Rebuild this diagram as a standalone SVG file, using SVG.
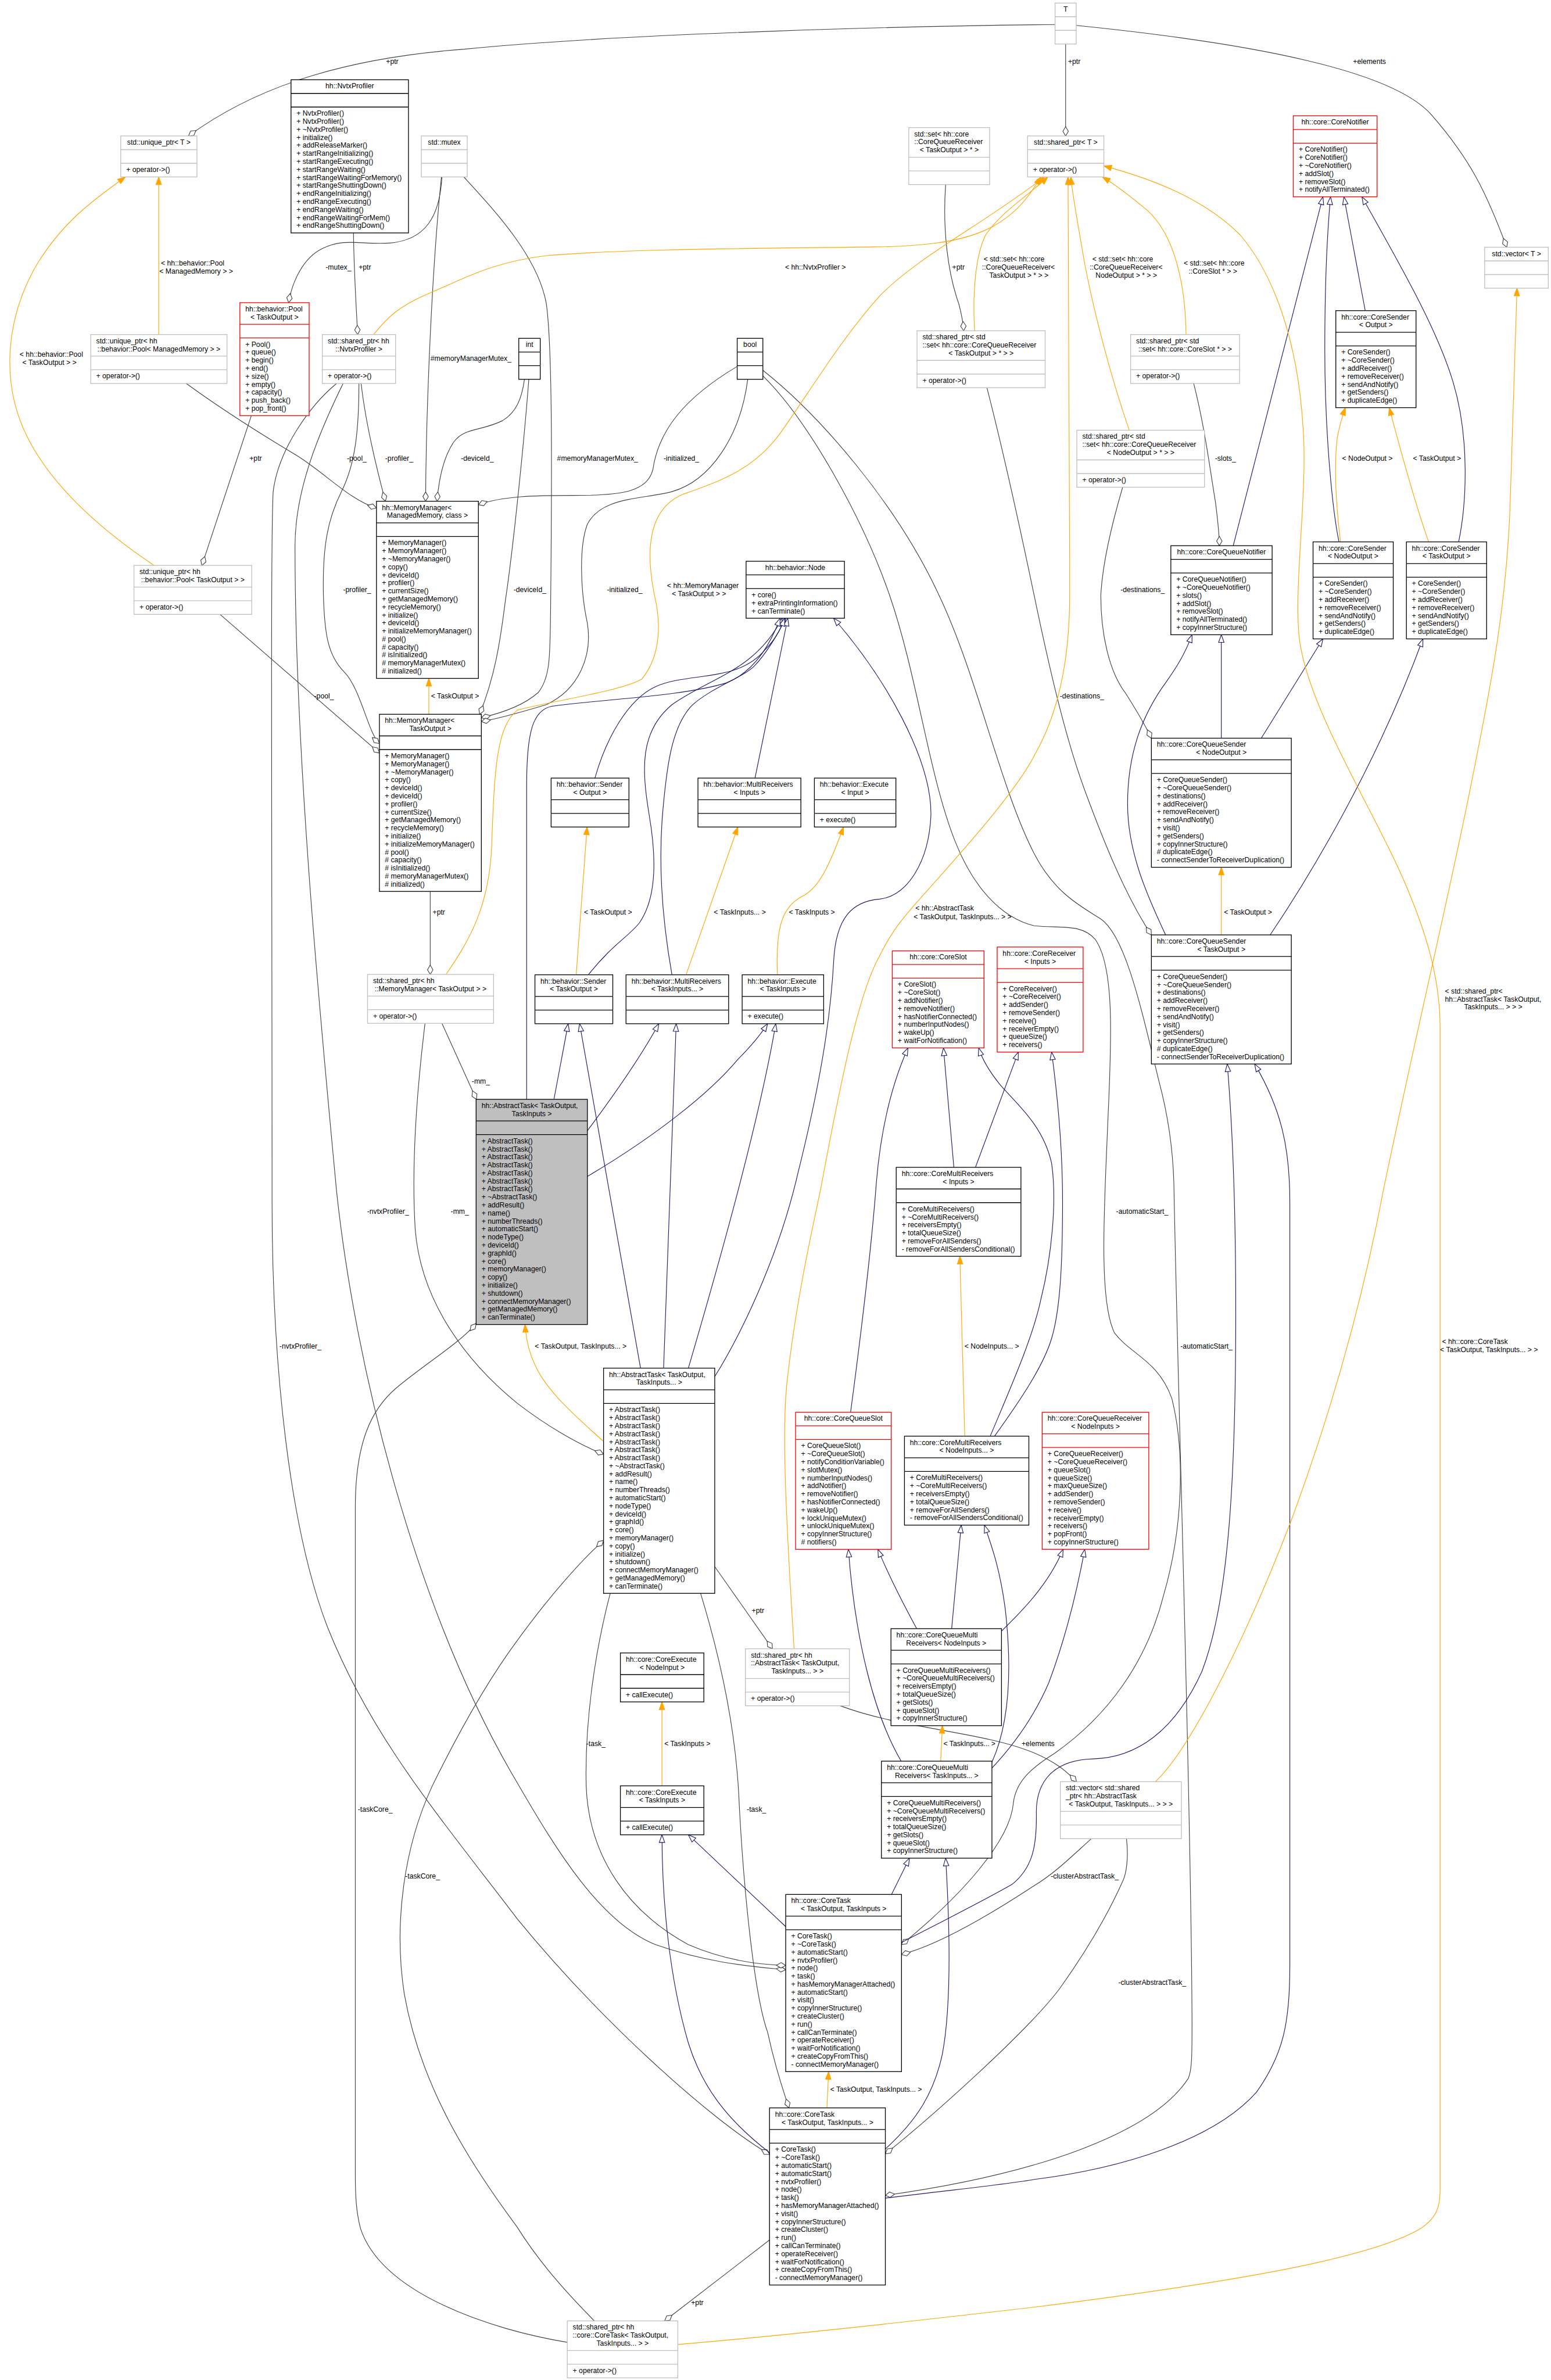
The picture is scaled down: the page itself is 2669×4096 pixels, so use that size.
<svg xmlns="http://www.w3.org/2000/svg" width="2669" height="4096" viewBox="0 0 2669 4096">
<defs>
<style>
text{font-family:"Liberation Sans",Arial,Helvetica,sans-serif;font-size:13px;fill:#000}
.b{fill:#fff;stroke:#000;stroke-width:1.4}
.g{fill:#fff;stroke:#bfbfbf;stroke-width:1.4}
.r{fill:#fff;stroke:#ff0000;stroke-width:1.4}
.f{fill:#bfbfbf;stroke:#000;stroke-width:1.4}
.sb{fill:none;stroke:#000;stroke-width:1.4}
.sg{fill:none;stroke:#bfbfbf;stroke-width:1.4}
.sr{fill:none;stroke:#ff0000;stroke-width:1.4}
.c{text-anchor:middle}
.e{fill:none;stroke-width:1.2}
.eg{stroke:#404040;marker-end:url(#dia)}
.eb{stroke:#191970;marker-end:url(#tri)}
.eo{stroke:#ffa500;marker-end:url(#arr)}
</style>
<marker id="dia" markerUnits="userSpaceOnUse" viewBox="-19 -7 20 14" refX="0" refY="0" markerWidth="20" markerHeight="14" orient="auto"><path d="M-17,0 L-8.5,-5 L0,0 L-8.5,5 Z" fill="#fff" stroke="#404040" stroke-width="1.2"/></marker>
<marker id="tri" markerUnits="userSpaceOnUse" viewBox="-16 -7 17 14" refX="0" refY="0" markerWidth="17" markerHeight="14" orient="auto"><path d="M-14,-5 L0,0 L-14,5 Z" fill="#fff" stroke="#191970" stroke-width="1.2"/></marker>
<marker id="arr" markerUnits="userSpaceOnUse" viewBox="-16 -7 17 14" refX="0" refY="0" markerWidth="17" markerHeight="14" orient="auto"><path d="M-14,-5 L0,0 L-14,5 Z" fill="#ffa500" stroke="#ffa500" stroke-width="1.2"/></marker>
</defs>
<rect x="0" y="0" width="2669" height="4096" fill="#fff"/>
<g transform="scale(0.9401)">
<g id="connectors" class="e">
<!-- usage (gray) -->
<path class="e eg" d="M1931.3,45 C1700,47 1150,60 850,90 C650,105 480,150 345,248.9"/>
<path class="e eg" d="M1950.6,80.6 L1950.6,248.9"/>
<path class="e eg" d="M1969.9,46.6 C2300,80 2550,130 2620,210 C2690,290 2720,350 2758,452.6"/>
<path class="e eg" d="M809,323.9 C805,395 780,440 712,445 C660,448 630,435 590,455 C555,472 535,515 528.4,554.1"/>
<path class="e eg" d="M647,426.4 C648,500 652,560 654.7,612.4"/>
<path class="e eg" d="M808,323.9 C790,500 780,750 779,917.6"/>
<path class="e eg" d="M849,323.9 C905,385 985,470 1000,556 C1012,640 1010,900 1008,1100 C1007,1200 1008,1240 985,1268 C960,1290 920,1305 881.1,1314"/>
<path class="e eg" d="M1349.4,670.8 C1250,730 1205,790 1195,860 C1185,900 1140,907 1050,907 C980,907 920,908 875.7,924"/>
<path class="e eg" d="M1368.7,694.4 C1355,800 1300,880 1230,900 C1170,915 1100,910 1075,960 C1060,1000 1062,1080 1075,1140 C1085,1200 1060,1262 1000,1290 C950,1305 910,1316 881.1,1321"/>
<path class="e eg" d="M960,694.4 C955,730 945,755 920,770 C880,790 850,782 830,810 C810,840 803,880 800,917.6"/>
<path class="e eg" d="M968,694.4 C960,800 940,1000 925,1100 C915,1180 905,1240 878,1307.6"/>
<path class="e eg" d="M341,702 C400,745 470,790 543.5,834 C600,870 640,915 689.1,930"/>
<path class="e eg" d="M661,702 C670,780 690,860 705.4,917.6"/>
<path class="e eg" d="M657,702 C657,790 650,850 625,900 C600,950 590,1000 592,1090 C594,1160 600,1200 630,1230 C660,1260 675,1345 694.5,1361"/>
<path class="e eg" d="M402.8,1124.7 L694.5,1378.5"/>
<path class="e eg" d="M460,761 L369.6,1035.1"/>
<path class="e eg" d="M787.5,1631.9 L787.5,1783.8"/>
<path class="e eg" d="M809,1873.4 L872,2012.5"/>
<path class="e eg" d="M778,1873.4 C765,1980 752,2120 760,2250 C770,2380 850,2490 947,2569 C1000,2610 1060,2645 1104.8,2662"/>
<path class="e eg" d="M628,702 C580,800 540,900 540,1000 C540,1400 590,1900 616,2180 C650,2500 760,2950 947,3264 C1020,3390 1100,3520 1200,3560 C1300,3595 1380,3600 1438.2,3606"/>
<path class="e eg" d="M616,702 C570,740 510,820 500,900 C495,1000 498,1500 498,2200 C498,2500 530,2800 600,2980 C680,3180 800,3320 947,3513 C1100,3700 1300,3880 1408.6,3944"/>
<path class="e eg" d="M1038.4,4288 C900,4265 700,4200 660,4080 C652,4050 650.4,4020 650.4,3980 L650.4,2760 C650.4,2640 680,2580 724.7,2541.5 C780,2495 840,2460 871.5,2423"/>
<path class="e eg" d="M1088,4248.8 C1020,4180 980,4130 946,4076 C860,3960 770,3820 740,3650 C720,3520 740,3380 791,3270 C840,3170 890,3080 947,3003 C1000,2930 1060,2860 1104.8,2820"/>
<path class="e eg" d="M1408.6,4100.7 L1216.6,4248.8"/>
<path class="e eg" d="M1117,2916.9 C1090,3020 1070,3150 1073,3270 C1078,3400 1150,3500 1260,3560 C1330,3590 1390,3597 1438.2,3598"/>
<path class="e eg" d="M1282.4,2916.9 C1320,3040 1345,3160 1352,3280 C1360,3450 1380,3650 1405,3720 C1420,3790 1435,3830 1444,3858.8"/>
<path class="e eg" d="M1308.4,2868 L1414,3018.4"/>
<path class="e eg" d="M1538,3122.7 C1650,3165 1800,3170 1893,3209 C1930,3225 1950,3240 1970.5,3261.7"/>
<path class="e eg" d="M1806.6,709.8 C1840,840 1870,980 1893,1090 C1920,1220 1950,1350 1985,1445 C2020,1540 2060,1640 2107.6,1711.5"/>
<path class="e eg" d="M2055,891.9 C2035,960 2018,1030 2015,1090 C2015,1160 2030,1230 2061,1270 C2080,1300 2095,1325 2107.6,1351.4"/>
<path class="e eg" d="M2185,702 C2205,780 2215,860 2225,920 C2230,960 2232,980 2232,999"/>
<path class="e eg" d="M1731,337.9 C1725,420 1735,500 1755,556 C1760,575 1763,590 1764,605.5"/>
<path class="e eg" d="M1396.4,677.8 C1500,760 1640,920 1719,1090 C1790,1240 1830,1440 1893,1562.7 C1930,1635 1980,1660 2013,1681 C2060,1710 2090,1850 2121.5,1979.8 C2135,2030 2148,2100 2149,2180 C2155,2500 2180,3300 2182,3700 C2182,3760 2182,3790 2175,3805 C2110,3905 1900,3980 1620.6,4019"/>
<path class="e eg" d="M1396.4,688 C1480,770 1580,950 1628.5,1090 C1680,1240 1700,1420 1749,1542 C1780,1620 1830,1680 1893,1694.8 C1940,1700 1980,1690 2005,1720 C2040,1770 2035,1900 2028,2050 C2022,2200 2010,2380 2040,2440 C2070,2480 2120,2490 2145,2560 C2170,2660 2165,2800 2130,2920 C2100,3040 2030,3140 1930,3210 C1890,3235 1860,3260 1855,3300 C1850,3370 1760,3470 1650.2,3560"/>
<path class="e eg" d="M1997.7,3366 C1960,3400 1930,3430 1893,3452 C1820,3500 1720,3560 1650.2,3578"/>
<path class="e eg" d="M2062,3366 C2066,3400 2062,3430 2055,3444 C2030,3500 1990,3570 1940,3640 C1880,3720 1700,3880 1620.6,3943"/>
<!-- inheritance (blue) -->
<path class="e eb" d="M2257.4,999 L2421.6,360.3"/>
<path class="e eb" d="M2451,992 C2440,940 2425,800 2425,640 C2425,500 2430,420 2435.5,360.3"/>
<path class="e eb" d="M2499,568.7 L2460,360.3"/>
<path class="e eb" d="M2670,992 C2685,920 2690,800 2660,700 C2630,600 2560,480 2493,360.3"/>
<path class="e eb" d="M2308.7,1351.4 L2421.6,1169.6"/>
<path class="e eb" d="M2235.6,1351.4 L2235.6,1162"/>
<path class="e eb" d="M2325,1711.5 C2400,1600 2520,1400 2604.6,1169.6"/>
<path class="e eb" d="M2133.6,1711.5 C2100,1640 2064,1560 2064,1472 C2064,1380 2090,1310 2133.6,1250 C2155,1220 2170,1195 2182,1162"/>
<path class="e eb" d="M1077,1784.5 C1120,1730 1150,1715 1170,1690 C1205,1640 1200,1560 1188,1490 C1175,1410 1170,1340 1230,1290 C1300,1240 1380,1230 1432,1131.8"/>
<path class="e eb" d="M1230,1784.5 C1215,1700 1205,1600 1212,1500 C1220,1400 1230,1330 1266,1292 C1300,1260 1360,1240 1380,1220 C1400,1200 1425,1160 1438,1131.8"/>
<path class="e eb" d="M1382,1424.4 L1442,1131.8"/>
<path class="e eb" d="M1089,1424.4 C1110,1350 1150,1280 1200,1257 C1260,1230 1350,1250 1400,1190 C1420,1170 1430,1150 1436,1131.8"/>
<path class="e eb" d="M964,2012.5 L964,1440 C964,1340 975,1300 1010,1293 C1100,1280 1250,1275 1330,1250 C1380,1230 1410,1180 1428,1131.8"/>
<path class="e eb" d="M1308.4,2520 C1370,2420 1430,2280 1460,2150 C1500,1990 1520,1870 1526,1760 C1530,1680 1560,1650 1610,1646 C1660,1640 1700,1580 1704,1493 C1706,1390 1620,1240 1526,1131.8"/>
<path class="e eb" d="M1014,2012.5 L1040,1874.1"/>
<path class="e eb" d="M1172.5,2504.6 L1061,1874.1"/>
<path class="e eb" d="M1075.2,2070 C1120,2010 1170,1940 1206,1874.1"/>
<path class="e eb" d="M1214.7,2504.6 L1237.7,1874.1"/>
<path class="e eb" d="M1075.2,2153.6 C1200,2080 1300,2000 1350,1940 C1380,1910 1395,1890 1405,1874.1"/>
<path class="e eb" d="M1260,2504.6 C1320,2300 1390,2050 1420,1874.1"/>
<path class="e eb" d="M1746,2137 L1727,1918.4"/>
<path class="e eb" d="M1785.5,2137 L1864,1926"/>
<path class="e eb" d="M1812.6,2629.1 C1850,2540 1890,2450 1905,2380 C1925,2300 1935,2200 1925,2130 C1910,2060 1860,2020 1830,1985 C1810,1960 1798,1940 1791.5,1918.4"/>
<path class="e eb" d="M1820.5,2629.1 C1870,2560 1910,2500 1925,2450 C1940,2400 1945,2320 1945,2200 C1945,2100 1935,2000 1925,1926"/>
<path class="e eb" d="M1557,2585.3 C1575,2450 1595,2280 1603,2180 C1610,2080 1630,1990 1662,1918.4"/>
<path class="e eb" d="M1678,2981.5 C1650,2930 1625,2880 1607,2836.3"/>
<path class="e eb" d="M1649.6,3224.1 C1600,3140 1565,3000 1553,2836.3"/>
<path class="e eb" d="M1742,2981.5 L1759.5,2792"/>
<path class="e eb" d="M1815.7,3226 C1850,3150 1852,3050 1840,2944.7 C1830,2870 1815,2830 1802,2792"/>
<path class="e eb" d="M1833.2,2986 C1870,2950 1920,2900 1946,2836.2"/>
<path class="e eb" d="M1815.7,3236.7 C1850,3200 1890,3150 1920,3080 C1950,3000 1970,2920 1985.6,2836.2"/>
<path class="e eb" d="M1438.2,3527 L1260,3358.9"/>
<path class="e eb" d="M1632,3468.1 L1664.7,3401.7"/>
<path class="e eb" d="M1650.2,3556 C1720,3520 1800,3480 1852,3450 C1890,3420 1898,3380 1897,3320 C1896,3260 1930,3222 2000,3220 C2080,3218 2150,3170 2200,3060 C2250,2930 2262,2700 2262,2400 C2262,2200 2255,2050 2246.5,1947.8"/>
<path class="e eb" d="M1620.6,4024 C1750,4008 1850,3998 1892,3990 C2050,3970 2220,3920 2300,3830 C2350,3760 2361,3700 2361,3600 L2361,2200 C2361,2100 2345,2030 2296.6,1947.8"/>
<path class="e eb" d="M1408.6,3940.8 C1330,3880 1285,3820 1260,3740 C1225,3620 1212,3480 1211.7,3358.9"/>
<path class="e eb" d="M1620.6,3934 C1680,3880 1710,3830 1725,3760 C1740,3680 1740,3550 1731,3401.7"/>
<!-- template instances (orange) -->
<path class="e eo" d="M290.5,612.4 L290.5,323.9"/>
<path class="e eo" d="M282,1035.1 C200,980 100,900 50,800 C0,700 10,580 70,480 C120,400 180,360 229.5,323.9"/>
<path class="e eo" d="M684,612.4 C710,580 730,560 790,535 C850,510 900,480 1000,468 C1150,455 1400,455 1600,452 C1780,450 1850,420 1905,323.9"/>
<path class="e eo" d="M816.5,1783.8 C860,1720 895,1660 900,1550 C905,1400 910,1330 947,1300 C1000,1285 1140,1265 1175,1243 C1210,1200 1210,1140 1198,1090 C1180,1000 1190,930 1250,905 C1320,880 1380,860 1429,792 C1480,720 1540,620 1610,542 C1680,470 1800,410 1912,323.9"/>
<path class="e eo" d="M1784,605.5 C1780,540 1785,470 1803.6,431 C1830,390 1880,360 1918,323.9"/>
<path class="e eo" d="M2067,787.6 C2030,680 2000,560 1985,480 C1975,420 1965,370 1960,323.9"/>
<path class="e eo" d="M2171,612.4 C2170,520 2150,430 2100,385 C2070,360 2045,340 2018,323.9"/>
<path class="e eo" d="M1453.6,3018.4 C1440,2800 1430,2620 1441,2527 C1455,2400 1480,2280 1501.6,2180 C1535,2000 1570,1820 1610,1750 C1630,1710 1645,1690 1671,1660 C1760,1560 1860,1450 1895,1380 C1940,1300 1958,1200 1958,1090 C1958,800 1956,500 1955,323.9"/>
<path class="e eo" d="M1240.7,4292 C1500,4270 1750,4240 1892,4223.8 C2200,4185 2500,4140 2600,4080 C2630,4060 2636,4040 2636,4010 L2636,1880 C2636,1790 2610,1700 2560,1590 C2500,1460 2400,1300 2380,1180 C2365,1090 2395,900 2385,780 C2375,620 2330,500 2270,430 C2200,360 2100,325 2020.6,303.8"/>
<path class="e eo" d="M2115,3261.7 C2180,3200 2280,3000 2363,2785 C2450,2550 2500,2350 2532,2180 C2590,1900 2650,1650 2690,1450 C2730,1250 2760,1100 2765,900 C2770,750 2775,620 2776.8,527.6"/>
<path class="e eo" d="M785,1307.6 L785,1241.9"/>
<path class="e eo" d="M1054.7,1784.5 L1074.6,1514"/>
<path class="e eo" d="M1255.8,1784.5 L1350.6,1514"/>
<path class="e eo" d="M1423,1784.5 C1420,1700 1430,1660 1470,1640 C1500,1625 1520,1580 1544,1514"/>
<path class="e eo" d="M2453.7,992 C2445,920 2442,850 2448,800 C2452,780 2456,765 2462.7,746.3"/>
<path class="e eo" d="M2615,992 C2590,920 2565,830 2543,746.3"/>
<path class="e eo" d="M2235.6,1711.5 L2235.6,1587.7"/>
<path class="e eo" d="M1766,2629.1 L1757,2299.9"/>
<path class="e eo" d="M1722,3224.1 L1725,3159.1"/>
<path class="e eo" d="M1211.7,3269.3 L1211.7,3115.6"/>
<path class="e eo" d="M1513.7,3858.8 L1516.7,3792.4"/>
<path class="e eo" d="M1104.8,2638.8 C1050,2590 1000,2545 980,2500 C970,2480 963,2455 961,2424.8"/>
</g>
<g id="edge-labels">
<text x="706.6" y="116.5">+ptr</text>
<text x="1955" y="116.5">+ptr</text>
<text x="2476.6" y="116.5">+elements</text>
<text x="596" y="494">-mutex_</text>
<text x="656.5" y="494">+ptr</text>
<text x="788" y="660.5">#memoryManagerMutex_</text>
<text x="1019.7" y="843">#memoryManagerMutex_</text>
<text x="1214.7" y="843">-initialized_</text>
<text x="1111" y="1083.5">-initialized_</text>
<text x="843.7" y="843">-deviceId_</text>
<text x="940" y="1083.5">-deviceId_</text>
<text x="635" y="843">-pool_</text>
<text x="705" y="843">-profiler_</text>
<text x="456.6" y="843">+ptr</text>
<text x="628" y="1083.5">-profiler_</text>
<text x="575" y="1278.5">-pool_</text>
<text x="792" y="1674.3">+ptr</text>
<text x="863.6" y="1984.3">-mm_</text>
<text x="672" y="2222.5">-nvtxProfiler_</text>
<text x="825" y="2222.5">-mm_</text>
<text x="511.5" y="2468.5">-nvtxProfiler_</text>
<text x="655" y="3316.2">-taskCore_</text>
<text x="741.6" y="3439.3">-taskCore_</text>
<text x="1265" y="4219.9">+ptr</text>
<text x="1073" y="3196">-task_</text>
<text x="1367" y="3316.5">-task_</text>
<text x="1376" y="2952.5">+ptr</text>
<text x="1870" y="3196">+elements</text>
<text x="2043" y="2222.5">-automaticStart_</text>
<text x="2160.7" y="2468.5">-automaticStart_</text>
<text x="1923.4" y="3439.3">-clusterAbstractTask_</text>
<text x="2047" y="3633.9">-clusterAbstractTask_</text>
<text x="1940" y="1278.5">-destinations_</text>
<text x="2051" y="1083.5">-destinations_</text>
<text x="2224" y="843">-slots_</text>
<text x="1743" y="494">+ptr</text>
<text x="294.7" y="486.2">&lt; hh::behavior::Pool</text>
<text x="291.7" y="500.9">&lt; ManagedMemory &gt; &gt;</text>
<text x="36" y="653.1">&lt; hh::behavior::Pool</text>
<text x="41" y="668.5">&lt; TaskOutput &gt; &gt;</text>
<text x="1437" y="494">&lt; hh::NvtxProfiler &gt;</text>
<text x="1221" y="1076.5">&lt; hh::MemoryManager</text>
<text x="1230" y="1091">&lt; TaskOutput &gt; &gt;</text>
<text x="1800.6" y="478.5">&lt; std::set&lt; hh::core</text>
<text x="1797.5" y="493.9">::CoreQueueReceiver&lt;</text>
<text x="1811" y="508.5">TaskOutput &gt; * &gt; &gt;</text>
<text x="1999.5" y="478.5">&lt; std::set&lt; hh::core</text>
<text x="1994.7" y="493.9">::CoreQueueReceiver&lt;</text>
<text x="2005.5" y="508.5">NodeOutput &gt; * &gt; &gt;</text>
<text x="2166.8" y="486.2">&lt; std::set&lt; hh::core</text>
<text x="2175.8" y="500.9">::CoreSlot * &gt; &gt;</text>
<text x="1675.5" y="1667.3">&lt; hh::AbstractTask</text>
<text x="1672.5" y="1682.5">&lt; TaskOutput, TaskInputs... &gt; &gt;</text>
<text x="2639.6" y="2460.5">&lt; hh::core::CoreTask</text>
<text x="2636" y="2475.8">&lt; TaskOutput, TaskInputs... &gt; &gt;</text>
<text x="2645" y="1819">&lt; std::shared_ptr&lt;</text>
<text x="2645" y="1833.5">hh::AbstractTask&lt; TaskOutput,</text>
<text x="2680" y="1848">TaskInputs... &gt; &gt; &gt;</text>
<text x="789" y="1278.5">&lt; TaskOutput &gt;</text>
<text x="1069" y="1674.5">&lt; TaskOutput &gt;</text>
<text x="1306.6" y="1674.5">&lt; TaskInputs... &gt;</text>
<text x="1444" y="1674.5">&lt; TaskInputs &gt;</text>
<text x="2456.7" y="843">&lt; NodeOutput &gt;</text>
<text x="2586.5" y="843">&lt; TaskOutput &gt;</text>
<text x="2240.5" y="1674.3">&lt; TaskOutput &gt;</text>
<text x="1765.6" y="2468.5">&lt; NodeInputs... &gt;</text>
<text x="1727" y="3196">&lt; TaskInputs... &gt;</text>
<text x="1216" y="3196">&lt; TaskInputs &gt;</text>
<text x="1519.7" y="3829.2">&lt; TaskOutput, TaskInputs... &gt;</text>
<text x="979" y="2468.5">&lt; TaskOutput, TaskInputs... &gt;</text>
</g>
<g id="nodes">
<g id="n-unique-ptr-t"><rect class="g" x="221" y="248.9" width="139.5" height="75"/><path class="sg" d="M221,273.9 h139.5 M221,298.9 h139.5"/><text class="c" x="290.75" y="264.9">std::unique_ptr&lt; T &gt;</text><text x="231" y="314.9">+ operator-&gt;()</text></g>
<g id="n-nvtxprofiler"><rect class="b" x="532.7" y="146" width="215" height="280.4"/><path class="sb" d="M532.7,171 h215 M532.7,196 h215"/><text class="c" x="640.2" y="162">hh::NvtxProfiler</text><text x="542.7" y="212"><tspan x="542.7" dy="0">+ NvtxProfiler()</tspan><tspan x="542.7" dy="14.67">+ NvtxProfiler()</tspan><tspan x="542.7" dy="14.67">+ ~NvtxProfiler()</tspan><tspan x="542.7" dy="14.67">+ initialize()</tspan><tspan x="542.7" dy="14.67">+ addReleaseMarker()</tspan><tspan x="542.7" dy="14.67">+ startRangeInitializing()</tspan><tspan x="542.7" dy="14.67">+ startRangeExecuting()</tspan><tspan x="542.7" dy="14.67">+ startRangeWaiting()</tspan><tspan x="542.7" dy="14.67">+ startRangeWaitingForMemory()</tspan><tspan x="542.7" dy="14.67">+ startRangeShuttingDown()</tspan><tspan x="542.7" dy="14.67">+ endRangeInitializing()</tspan><tspan x="542.7" dy="14.67">+ endRangeExecuting()</tspan><tspan x="542.7" dy="14.67">+ endRangeWaiting()</tspan><tspan x="542.7" dy="14.67">+ endRangeWaitingForMem()</tspan><tspan x="542.7" dy="14.67">+ endRangeShuttingDown()</tspan></text></g>
<g id="n-mutex"><rect class="g" x="771.2" y="248.9" width="84" height="75"/><path class="sg" d="M771.2,273.9 h84 M771.2,298.9 h84"/><text class="c" x="813.2" y="264.9">std::mutex</text></g>
<g id="n-pool-taskoutput"><rect class="r" x="439.1" y="554.1" width="126.8" height="206.9"/><path class="sr" d="M439.1,593.7 h126.8 M439.1,618.7 h126.8"/><text x="449.1" y="570.1">hh::behavior::Pool</text><text class="c" x="502.5" y="584.8">&lt; TaskOutput &gt;</text><text x="449.1" y="634.7"><tspan x="449.1" dy="0">+ Pool()</tspan><tspan x="449.1" dy="14.67">+ queue()</tspan><tspan x="449.1" dy="14.67">+ begin()</tspan><tspan x="449.1" dy="14.67">+ end()</tspan><tspan x="449.1" dy="14.67">+ size()</tspan><tspan x="449.1" dy="14.67">+ empty()</tspan><tspan x="449.1" dy="14.67">+ capacity()</tspan><tspan x="449.1" dy="14.67">+ push_back()</tspan><tspan x="449.1" dy="14.67">+ pop_front()</tspan></text></g>
<g id="n-unique-ptr-pool-mm"><rect class="g" x="166.1" y="612.4" width="249.4" height="89.6"/><path class="sg" d="M166.1,652 h249.4 M166.1,677 h249.4"/><text x="176.1" y="628.4">std::unique_ptr&lt; hh</text><text class="c" x="290.8" y="643.1">::behavior::Pool&lt; ManagedMemory &gt; &gt;</text><text x="176.1" y="693">+ operator-&gt;()</text></g>
<g id="n-shared-ptr-nvtx"><rect class="g" x="590" y="612.4" width="134.1" height="89.6"/><path class="sg" d="M590,652 h134.1 M590,677 h134.1"/><text x="600" y="628.4">std::shared_ptr&lt; hh</text><text class="c" x="657.05" y="643.1">::NvtxProfiler &gt;</text><text x="600" y="693">+ operator-&gt;()</text></g>
<g id="n-unique-ptr-pool-to"><rect class="g" x="245.2" y="1035.1" width="215.6" height="89.6"/><path class="sg" d="M245.2,1074.7 h215.6 M245.2,1099.7 h215.6"/><text x="255.2" y="1051.1">std::unique_ptr&lt; hh</text><text class="c" x="353" y="1065.8">::behavior::Pool&lt; TaskOutput &gt; &gt;</text><text x="255.2" y="1115.7">+ operator-&gt;()</text></g>
<g id="n-memorymanager-mm"><rect class="b" x="689.1" y="917.6" width="186.6" height="324.3"/><path class="sb" d="M689.1,957.2 h186.6 M689.1,982.2 h186.6"/><text x="699.1" y="933.6">hh::MemoryManager&lt;</text><text class="c" x="782.4" y="948.3">ManagedMemory, class &gt;</text><text x="699.1" y="998.2"><tspan x="699.1" dy="0">+ MemoryManager()</tspan><tspan x="699.1" dy="14.67">+ MemoryManager()</tspan><tspan x="699.1" dy="14.67">+ ~MemoryManager()</tspan><tspan x="699.1" dy="14.67">+ copy()</tspan><tspan x="699.1" dy="14.67">+ deviceId()</tspan><tspan x="699.1" dy="14.67">+ profiler()</tspan><tspan x="699.1" dy="14.67">+ currentSize()</tspan><tspan x="699.1" dy="14.67">+ getManagedMemory()</tspan><tspan x="699.1" dy="14.67">+ recycleMemory()</tspan><tspan x="699.1" dy="14.67">+ initialize()</tspan><tspan x="699.1" dy="14.67">+ deviceId()</tspan><tspan x="699.1" dy="14.67">+ initializeMemoryManager()</tspan><tspan x="699.1" dy="14.67"># pool()</tspan><tspan x="699.1" dy="14.67"># capacity()</tspan><tspan x="699.1" dy="14.67"># isInitialized()</tspan><tspan x="699.1" dy="14.67"># memoryManagerMutex()</tspan><tspan x="699.1" dy="14.67"># initialized()</tspan></text></g>
<g id="n-set-cqr-to"><rect class="g" x="1663.5" y="233.6" width="148" height="104.3"/><path class="sg" d="M1663.5,287.9 h148 M1663.5,312.9 h148"/><text x="1673.5" y="249.6">std::set&lt; hh::core</text><text x="1673.5" y="264.3">::CoreQueueReceiver</text><text class="c" x="1737.5" y="278.9">&lt; TaskOutput &gt; * &gt;</text></g>
<g id="n-int"><rect class="b" x="949.6" y="619.4" width="39.3" height="75"/><path class="sb" d="M949.6,644.4 h39.3 M949.6,669.4 h39.3"/><text class="c" x="969.25" y="635.4">int</text></g>
<g id="n-bool"><rect class="b" x="1349.4" y="619.4" width="47" height="75"/><path class="sb" d="M1349.4,644.4 h47 M1349.4,669.4 h47"/><text class="c" x="1372.9" y="635.4">bool</text></g>
<g id="n-shared-ptr-set-cqr-to"><rect class="g" x="1678.6" y="605.5" width="234.5" height="104.3"/><path class="sg" d="M1678.6,659.8 h234.5 M1678.6,684.8 h234.5"/><text x="1688.6" y="621.5">std::shared_ptr&lt; std</text><text x="1688.6" y="636.2">::set&lt; hh::core::CoreQueueReceiver</text><text class="c" x="1795.85" y="650.8">&lt; TaskOutput &gt; * &gt; &gt;</text><text x="1688.6" y="700.8">+ operator-&gt;()</text></g>
<g id="n-node"><rect class="b" x="1365.7" y="1027.5" width="180" height="104.3"/><path class="sb" d="M1365.7,1052.5 h180 M1365.7,1077.5 h180"/><text class="c" x="1455.7" y="1043.5">hh::behavior::Node</text><text x="1375.7" y="1093.5"><tspan x="1375.7" dy="0">+ core()</tspan><tspan x="1375.7" dy="14.67">+ extraPrintingInformation()</tspan><tspan x="1375.7" dy="14.67">+ canTerminate()</tspan></text></g>
<g id="n-t"><rect class="g" x="1931.3" y="5.6" width="38.6" height="75"/><path class="sg" d="M1931.3,30.6 h38.6 M1931.3,55.6 h38.6"/><text class="c" x="1950.6" y="21.6">T</text></g>
<g id="n-shared-ptr-t"><rect class="g" x="1880.9" y="248.9" width="139.7" height="75"/><path class="sg" d="M1880.9,273.9 h139.7 M1880.9,298.9 h139.7"/><text class="c" x="1950.75" y="264.9">std::shared_ptr&lt; T &gt;</text><text x="1890.9" y="314.9">+ operator-&gt;()</text></g>
<g id="n-corenotifier"><rect class="r" x="2367.3" y="212" width="153.4" height="148.3"/><path class="sr" d="M2367.3,237 h153.4 M2367.3,262 h153.4"/><text class="c" x="2444" y="228">hh::core::CoreNotifier</text><text x="2377.3" y="278"><tspan x="2377.3" dy="0">+ CoreNotifier()</tspan><tspan x="2377.3" dy="14.67">+ CoreNotifier()</tspan><tspan x="2377.3" dy="14.67">+ ~CoreNotifier()</tspan><tspan x="2377.3" dy="14.67">+ addSlot()</tspan><tspan x="2377.3" dy="14.67">+ removeSlot()</tspan><tspan x="2377.3" dy="14.67">+ notifyAllTerminated()</tspan></text></g>
<g id="n-vector-t"><rect class="g" x="2717.6" y="452.6" width="116.5" height="75"/><path class="sg" d="M2717.6,477.6 h116.5 M2717.6,502.6 h116.5"/><text class="c" x="2775.85" y="468.6">std::vector&lt; T &gt;</text></g>
<g id="n-coresender-output"><rect class="b" x="2445.2" y="568.7" width="146.8" height="177.6"/><path class="sb" d="M2445.2,608.3 h146.8 M2445.2,633.3 h146.8"/><text x="2455.2" y="584.7">hh::core::CoreSender</text><text class="c" x="2518.6" y="599.4">&lt; Output &gt;</text><text x="2455.2" y="649.3"><tspan x="2455.2" dy="0">+ CoreSender()</tspan><tspan x="2455.2" dy="14.67">+ ~CoreSender()</tspan><tspan x="2455.2" dy="14.67">+ addReceiver()</tspan><tspan x="2455.2" dy="14.67">+ removeReceiver()</tspan><tspan x="2455.2" dy="14.67">+ sendAndNotify()</tspan><tspan x="2455.2" dy="14.67">+ getSenders()</tspan><tspan x="2455.2" dy="14.67">+ duplicateEdge()</tspan></text></g>
<g id="n-shared-ptr-set-coreslot"><rect class="g" x="2069.6" y="612.4" width="199.3" height="89.6"/><path class="sg" d="M2069.6,652 h199.3 M2069.6,677 h199.3"/><text x="2079.6" y="628.4">std::shared_ptr&lt; std</text><text class="c" x="2169.25" y="643.1">::set&lt; hh::core::CoreSlot * &gt; &gt;</text><text x="2079.6" y="693">+ operator-&gt;()</text></g>
<g id="n-shared-ptr-set-cqr-no"><rect class="g" x="1971.1" y="787.6" width="233.7" height="104.3"/><path class="sg" d="M1971.1,841.9 h233.7 M1971.1,866.9 h233.7"/><text x="1981.1" y="803.6">std::shared_ptr&lt; std</text><text x="1981.1" y="818.3">::set&lt; hh::core::CoreQueueReceiver</text><text class="c" x="2087.95" y="832.9">&lt; NodeOutput &gt; * &gt; &gt;</text><text x="1981.1" y="882.9">+ operator-&gt;()</text></g>
<g id="n-corequeuenotifier"><rect class="b" x="2143.2" y="999" width="185.4" height="163"/><path class="sb" d="M2143.2,1024 h185.4 M2143.2,1049 h185.4"/><text class="c" x="2235.9" y="1015">hh::core::CoreQueueNotifier</text><text x="2153.2" y="1065"><tspan x="2153.2" dy="0">+ CoreQueueNotifier()</tspan><tspan x="2153.2" dy="14.67">+ ~CoreQueueNotifier()</tspan><tspan x="2153.2" dy="14.67">+ slots()</tspan><tspan x="2153.2" dy="14.67">+ addSlot()</tspan><tspan x="2153.2" dy="14.67">+ removeSlot()</tspan><tspan x="2153.2" dy="14.67">+ notifyAllTerminated()</tspan><tspan x="2153.2" dy="14.67">+ copyInnerStructure()</tspan></text></g>
<g id="n-coresender-nodeoutput"><rect class="b" x="2403.5" y="992" width="146.8" height="177.6"/><path class="sb" d="M2403.5,1031.6 h146.8 M2403.5,1056.6 h146.8"/><text x="2413.5" y="1008">hh::core::CoreSender</text><text class="c" x="2476.9" y="1022.7">&lt; NodeOutput &gt;</text><text x="2413.5" y="1072.6"><tspan x="2413.5" dy="0">+ CoreSender()</tspan><tspan x="2413.5" dy="14.67">+ ~CoreSender()</tspan><tspan x="2413.5" dy="14.67">+ addReceiver()</tspan><tspan x="2413.5" dy="14.67">+ removeReceiver()</tspan><tspan x="2413.5" dy="14.67">+ sendAndNotify()</tspan><tspan x="2413.5" dy="14.67">+ getSenders()</tspan><tspan x="2413.5" dy="14.67">+ duplicateEdge()</tspan></text></g>
<g id="n-coresender-taskoutput"><rect class="b" x="2574.4" y="992" width="146.8" height="177.6"/><path class="sb" d="M2574.4,1031.6 h146.8 M2574.4,1056.6 h146.8"/><text x="2584.4" y="1008">hh::core::CoreSender</text><text class="c" x="2647.8" y="1022.7">&lt; TaskOutput &gt;</text><text x="2584.4" y="1072.6"><tspan x="2584.4" dy="0">+ CoreSender()</tspan><tspan x="2584.4" dy="14.67">+ ~CoreSender()</tspan><tspan x="2584.4" dy="14.67">+ addReceiver()</tspan><tspan x="2584.4" dy="14.67">+ removeReceiver()</tspan><tspan x="2584.4" dy="14.67">+ sendAndNotify()</tspan><tspan x="2584.4" dy="14.67">+ getSenders()</tspan><tspan x="2584.4" dy="14.67">+ duplicateEdge()</tspan></text></g>
<g id="n-memorymanager-to"><rect class="b" x="694.5" y="1307.6" width="186.6" height="324.3"/><path class="sb" d="M694.5,1347.2 h186.6 M694.5,1372.2 h186.6"/><text x="704.5" y="1323.6">hh::MemoryManager&lt;</text><text class="c" x="787.8" y="1338.3">TaskOutput &gt;</text><text x="704.5" y="1388.2"><tspan x="704.5" dy="0">+ MemoryManager()</tspan><tspan x="704.5" dy="14.67">+ MemoryManager()</tspan><tspan x="704.5" dy="14.67">+ ~MemoryManager()</tspan><tspan x="704.5" dy="14.67">+ copy()</tspan><tspan x="704.5" dy="14.67">+ deviceId()</tspan><tspan x="704.5" dy="14.67">+ deviceId()</tspan><tspan x="704.5" dy="14.67">+ profiler()</tspan><tspan x="704.5" dy="14.67">+ currentSize()</tspan><tspan x="704.5" dy="14.67">+ getManagedMemory()</tspan><tspan x="704.5" dy="14.67">+ recycleMemory()</tspan><tspan x="704.5" dy="14.67">+ initialize()</tspan><tspan x="704.5" dy="14.67">+ initializeMemoryManager()</tspan><tspan x="704.5" dy="14.67"># pool()</tspan><tspan x="704.5" dy="14.67"># capacity()</tspan><tspan x="704.5" dy="14.67"># isInitialized()</tspan><tspan x="704.5" dy="14.67"># memoryManagerMutex()</tspan><tspan x="704.5" dy="14.67"># initialized()</tspan></text></g>
<g id="n-shared-ptr-mm-to"><rect class="g" x="672.8" y="1783.8" width="230.7" height="89.6"/><path class="sg" d="M672.8,1823.4 h230.7 M672.8,1848.4 h230.7"/><text x="682.8" y="1799.8">std::shared_ptr&lt; hh</text><text class="c" x="788.15" y="1814.5">::MemoryManager&lt; TaskOutput &gt; &gt;</text><text x="682.8" y="1864.4">+ operator-&gt;()</text></g>
<g id="n-abstracttask-focus"><rect class="f" x="871.5" y="2012.5" width="203.7" height="412.3"/><path class="sb" d="M871.5,2052.1 h203.7 M871.5,2077.1 h203.7"/><text x="881.5" y="2028.5">hh::AbstractTask&lt; TaskOutput,</text><text class="c" x="973.35" y="2043.2">TaskInputs &gt;</text><text x="881.5" y="2093.1"><tspan x="881.5" dy="0">+ AbstractTask()</tspan><tspan x="881.5" dy="14.67">+ AbstractTask()</tspan><tspan x="881.5" dy="14.67">+ AbstractTask()</tspan><tspan x="881.5" dy="14.67">+ AbstractTask()</tspan><tspan x="881.5" dy="14.67">+ AbstractTask()</tspan><tspan x="881.5" dy="14.67">+ AbstractTask()</tspan><tspan x="881.5" dy="14.67">+ AbstractTask()</tspan><tspan x="881.5" dy="14.67">+ ~AbstractTask()</tspan><tspan x="881.5" dy="14.67">+ addResult()</tspan><tspan x="881.5" dy="14.67">+ name()</tspan><tspan x="881.5" dy="14.67">+ numberThreads()</tspan><tspan x="881.5" dy="14.67">+ automaticStart()</tspan><tspan x="881.5" dy="14.67">+ nodeType()</tspan><tspan x="881.5" dy="14.67">+ deviceId()</tspan><tspan x="881.5" dy="14.67">+ graphId()</tspan><tspan x="881.5" dy="14.67">+ core()</tspan><tspan x="881.5" dy="14.67">+ memoryManager()</tspan><tspan x="881.5" dy="14.67">+ copy()</tspan><tspan x="881.5" dy="14.67">+ initialize()</tspan><tspan x="881.5" dy="14.67">+ shutdown()</tspan><tspan x="881.5" dy="14.67">+ connectMemoryManager()</tspan><tspan x="881.5" dy="14.67">+ getManagedMemory()</tspan><tspan x="881.5" dy="14.67">+ canTerminate()</tspan></text></g>
<g id="n-sender-output"><rect class="b" x="1008.8" y="1424.4" width="142.5" height="89.6"/><path class="sb" d="M1008.8,1464 h142.5 M1008.8,1489 h142.5"/><text x="1018.8" y="1440.4">hh::behavior::Sender</text><text class="c" x="1080.05" y="1455.1">&lt; Output &gt;</text></g>
<g id="n-multireceivers-inputs"><rect class="b" x="1277.6" y="1424.4" width="188.4" height="89.6"/><path class="sb" d="M1277.6,1464 h188.4 M1277.6,1489 h188.4"/><text x="1287.6" y="1440.4">hh::behavior::MultiReceivers</text><text class="c" x="1371.8" y="1455.1">&lt; Inputs &gt;</text></g>
<g id="n-execute-input"><rect class="b" x="1490.7" y="1424.4" width="149.2" height="89.6"/><path class="sb" d="M1490.7,1464 h149.2 M1490.7,1489 h149.2"/><text x="1500.7" y="1440.4">hh::behavior::Execute</text><text class="c" x="1565.3" y="1455.1">&lt; Input &gt;</text><text x="1500.7" y="1505">+ execute()</text></g>
<g id="n-sender-taskoutput"><rect class="b" x="979.2" y="1784.5" width="142.5" height="89.6"/><path class="sb" d="M979.2,1824.1 h142.5 M979.2,1849.1 h142.5"/><text x="989.2" y="1800.5">hh::behavior::Sender</text><text class="c" x="1050.45" y="1815.2">&lt; TaskOutput &gt;</text></g>
<g id="n-multireceivers-taskinputs"><rect class="b" x="1145.9" y="1784.5" width="187.8" height="89.6"/><path class="sb" d="M1145.9,1824.1 h187.8 M1145.9,1849.1 h187.8"/><text x="1155.9" y="1800.5">hh::behavior::MultiReceivers</text><text class="c" x="1239.8" y="1815.2">&lt; TaskInputs... &gt;</text></g>
<g id="n-execute-taskinputs"><rect class="b" x="1358.5" y="1784.5" width="149.2" height="89.6"/><path class="sb" d="M1358.5,1824.1 h149.2 M1358.5,1849.1 h149.2"/><text x="1368.5" y="1800.5">hh::behavior::Execute</text><text class="c" x="1433.1" y="1815.2">&lt; TaskInputs &gt;</text><text x="1368.5" y="1865.1">+ execute()</text></g>
<g id="n-coreslot"><rect class="r" x="1633.3" y="1740.7" width="167.9" height="177.7"/><path class="sr" d="M1633.3,1765.7 h167.9 M1633.3,1790.7 h167.9"/><text class="c" x="1717.25" y="1756.7">hh::core::CoreSlot</text><text x="1643.3" y="1806.7"><tspan x="1643.3" dy="0">+ CoreSlot()</tspan><tspan x="1643.3" dy="14.67">+ ~CoreSlot()</tspan><tspan x="1643.3" dy="14.67">+ addNotifier()</tspan><tspan x="1643.3" dy="14.67">+ removeNotifier()</tspan><tspan x="1643.3" dy="14.67">+ hasNotifierConnected()</tspan><tspan x="1643.3" dy="14.67">+ numberInputNodes()</tspan><tspan x="1643.3" dy="14.67">+ wakeUp()</tspan><tspan x="1643.3" dy="14.67">+ waitForNotification()</tspan></text></g>
<g id="n-corereceiver-inputs"><rect class="r" x="1825.3" y="1733.7" width="157.3" height="192.3"/><path class="sr" d="M1825.3,1773.3 h157.3 M1825.3,1798.3 h157.3"/><text x="1835.3" y="1749.7">hh::core::CoreReceiver</text><text class="c" x="1903.95" y="1764.4">&lt; Inputs &gt;</text><text x="1835.3" y="1814.3"><tspan x="1835.3" dy="0">+ CoreReceiver()</tspan><tspan x="1835.3" dy="14.67">+ ~CoreReceiver()</tspan><tspan x="1835.3" dy="14.67">+ addSender()</tspan><tspan x="1835.3" dy="14.67">+ removeSender()</tspan><tspan x="1835.3" dy="14.67">+ receive()</tspan><tspan x="1835.3" dy="14.67">+ receiverEmpty()</tspan><tspan x="1835.3" dy="14.67">+ queueSize()</tspan><tspan x="1835.3" dy="14.67">+ receivers()</tspan></text></g>
<g id="n-coremultireceivers-inputs"><rect class="b" x="1640.5" y="2137" width="228.3" height="162.9"/><path class="sb" d="M1640.5,2176.6 h228.3 M1640.5,2201.6 h228.3"/><text x="1650.5" y="2153">hh::core::CoreMultiReceivers</text><text class="c" x="1754.65" y="2167.7">&lt; Inputs &gt;</text><text x="1650.5" y="2217.6"><tspan x="1650.5" dy="0">+ CoreMultiReceivers()</tspan><tspan x="1650.5" dy="14.67">+ ~CoreMultiReceivers()</tspan><tspan x="1650.5" dy="14.67">+ receiversEmpty()</tspan><tspan x="1650.5" dy="14.67">+ totalQueueSize()</tspan><tspan x="1650.5" dy="14.67">+ removeForAllSenders()</tspan><tspan x="1650.5" dy="14.67">- removeForAllSendersConditional()</tspan></text></g>
<g id="n-corequeuesender-nodeoutput"><rect class="b" x="2107.6" y="1351.4" width="256.1" height="236.3"/><path class="sb" d="M2107.6,1391 h256.1 M2107.6,1416 h256.1"/><text x="2117.6" y="1367.4">hh::core::CoreQueueSender</text><text class="c" x="2235.65" y="1382.1">&lt; NodeOutput &gt;</text><text x="2117.6" y="1432"><tspan x="2117.6" dy="0">+ CoreQueueSender()</tspan><tspan x="2117.6" dy="14.67">+ ~CoreQueueSender()</tspan><tspan x="2117.6" dy="14.67">+ destinations()</tspan><tspan x="2117.6" dy="14.67">+ addReceiver()</tspan><tspan x="2117.6" dy="14.67">+ removeReceiver()</tspan><tspan x="2117.6" dy="14.67">+ sendAndNotify()</tspan><tspan x="2117.6" dy="14.67">+ visit()</tspan><tspan x="2117.6" dy="14.67">+ getSenders()</tspan><tspan x="2117.6" dy="14.67">+ copyInnerStructure()</tspan><tspan x="2117.6" dy="14.67"># duplicateEdge()</tspan><tspan x="2117.6" dy="14.67">- connectSenderToReceiverDuplication()</tspan></text></g>
<g id="n-corequeuesender-taskoutput"><rect class="b" x="2107.6" y="1711.5" width="256.1" height="236.3"/><path class="sb" d="M2107.6,1751.1 h256.1 M2107.6,1776.1 h256.1"/><text x="2117.6" y="1727.5">hh::core::CoreQueueSender</text><text class="c" x="2235.65" y="1742.2">&lt; TaskOutput &gt;</text><text x="2117.6" y="1792.1"><tspan x="2117.6" dy="0">+ CoreQueueSender()</tspan><tspan x="2117.6" dy="14.67">+ ~CoreQueueSender()</tspan><tspan x="2117.6" dy="14.67">+ destinations()</tspan><tspan x="2117.6" dy="14.67">+ addReceiver()</tspan><tspan x="2117.6" dy="14.67">+ removeReceiver()</tspan><tspan x="2117.6" dy="14.67">+ sendAndNotify()</tspan><tspan x="2117.6" dy="14.67">+ visit()</tspan><tspan x="2117.6" dy="14.67">+ getSenders()</tspan><tspan x="2117.6" dy="14.67">+ copyInnerStructure()</tspan><tspan x="2117.6" dy="14.67"># duplicateEdge()</tspan><tspan x="2117.6" dy="14.67">- connectSenderToReceiverDuplication()</tspan></text></g>
<g id="n-abstracttask-variadic"><rect class="b" x="1104.8" y="2504.6" width="203.5" height="412.3"/><path class="sb" d="M1104.8,2544.2 h203.5 M1104.8,2569.2 h203.5"/><text x="1114.8" y="2520.6">hh::AbstractTask&lt; TaskOutput,</text><text class="c" x="1206.55" y="2535.3">TaskInputs... &gt;</text><text x="1114.8" y="2585.2"><tspan x="1114.8" dy="0">+ AbstractTask()</tspan><tspan x="1114.8" dy="14.67">+ AbstractTask()</tspan><tspan x="1114.8" dy="14.67">+ AbstractTask()</tspan><tspan x="1114.8" dy="14.67">+ AbstractTask()</tspan><tspan x="1114.8" dy="14.67">+ AbstractTask()</tspan><tspan x="1114.8" dy="14.67">+ AbstractTask()</tspan><tspan x="1114.8" dy="14.67">+ AbstractTask()</tspan><tspan x="1114.8" dy="14.67">+ ~AbstractTask()</tspan><tspan x="1114.8" dy="14.67">+ addResult()</tspan><tspan x="1114.8" dy="14.67">+ name()</tspan><tspan x="1114.8" dy="14.67">+ numberThreads()</tspan><tspan x="1114.8" dy="14.67">+ automaticStart()</tspan><tspan x="1114.8" dy="14.67">+ nodeType()</tspan><tspan x="1114.8" dy="14.67">+ deviceId()</tspan><tspan x="1114.8" dy="14.67">+ graphId()</tspan><tspan x="1114.8" dy="14.67">+ core()</tspan><tspan x="1114.8" dy="14.67">+ memoryManager()</tspan><tspan x="1114.8" dy="14.67">+ copy()</tspan><tspan x="1114.8" dy="14.67">+ initialize()</tspan><tspan x="1114.8" dy="14.67">+ shutdown()</tspan><tspan x="1114.8" dy="14.67">+ connectMemoryManager()</tspan><tspan x="1114.8" dy="14.67">+ getManagedMemory()</tspan><tspan x="1114.8" dy="14.67">+ canTerminate()</tspan></text></g>
<g id="n-corequeueslot"><rect class="r" x="1456.3" y="2585.3" width="175.1" height="251"/><path class="sr" d="M1456.3,2610.3 h175.1 M1456.3,2635.3 h175.1"/><text class="c" x="1543.85" y="2601.3">hh::core::CoreQueueSlot</text><text x="1466.3" y="2651.3"><tspan x="1466.3" dy="0">+ CoreQueueSlot()</tspan><tspan x="1466.3" dy="14.67">+ ~CoreQueueSlot()</tspan><tspan x="1466.3" dy="14.67">+ notifyConditionVariable()</tspan><tspan x="1466.3" dy="14.67">+ slotMutex()</tspan><tspan x="1466.3" dy="14.67">+ numberInputNodes()</tspan><tspan x="1466.3" dy="14.67">+ addNotifier()</tspan><tspan x="1466.3" dy="14.67">+ removeNotifier()</tspan><tspan x="1466.3" dy="14.67">+ hasNotifierConnected()</tspan><tspan x="1466.3" dy="14.67">+ wakeUp()</tspan><tspan x="1466.3" dy="14.67">+ lockUniqueMutex()</tspan><tspan x="1466.3" dy="14.67">+ unlockUniqueMutex()</tspan><tspan x="1466.3" dy="14.67">+ copyInnerStructure()</tspan><tspan x="1466.3" dy="14.67"># notifiers()</tspan></text></g>
<g id="n-coremultireceivers-nodeinputs"><rect class="b" x="1655.6" y="2629.1" width="227.7" height="162.9"/><path class="sb" d="M1655.6,2668.7 h227.7 M1655.6,2693.7 h227.7"/><text x="1665.6" y="2645.1">hh::core::CoreMultiReceivers</text><text class="c" x="1769.45" y="2659.8">&lt; NodeInputs... &gt;</text><text x="1665.6" y="2709.7"><tspan x="1665.6" dy="0">+ CoreMultiReceivers()</tspan><tspan x="1665.6" dy="14.67">+ ~CoreMultiReceivers()</tspan><tspan x="1665.6" dy="14.67">+ receiversEmpty()</tspan><tspan x="1665.6" dy="14.67">+ totalQueueSize()</tspan><tspan x="1665.6" dy="14.67">+ removeForAllSenders()</tspan><tspan x="1665.6" dy="14.67">- removeForAllSendersConditional()</tspan></text></g>
<g id="n-coreexecute-nodeinput"><rect class="b" x="1135.6" y="3026" width="152.8" height="89.6"/><path class="sb" d="M1135.6,3065.6 h152.8 M1135.6,3090.6 h152.8"/><text x="1145.6" y="3042">hh::core::CoreExecute</text><text class="c" x="1212" y="3056.7">&lt; NodeInput &gt;</text><text x="1145.6" y="3106.6">+ callExecute()</text></g>
<g id="n-shared-ptr-abstracttask"><rect class="g" x="1364.5" y="3018.4" width="190.3" height="104.3"/><path class="sg" d="M1364.5,3072.7 h190.3 M1364.5,3097.7 h190.3"/><text x="1374.5" y="3034.4">std::shared_ptr&lt; hh</text><text x="1374.5" y="3049.1">::AbstractTask&lt; TaskOutput,</text><text class="c" x="1459.65" y="3063.7">TaskInputs... &gt; &gt;</text><text x="1374.5" y="3113.7">+ operator-&gt;()</text></g>
<g id="n-corequeuemultireceivers-nodeinputs"><rect class="b" x="1630.9" y="2981.5" width="202.3" height="177.6"/><path class="sb" d="M1630.9,3021.1 h202.3 M1630.9,3046.1 h202.3"/><text x="1640.9" y="2997.5">hh::core::CoreQueueMulti</text><text class="c" x="1732.05" y="3012.2">Receivers&lt; NodeInputs &gt;</text><text x="1640.9" y="3062.1"><tspan x="1640.9" dy="0">+ CoreQueueMultiReceivers()</tspan><tspan x="1640.9" dy="14.67">+ ~CoreQueueMultiReceivers()</tspan><tspan x="1640.9" dy="14.67">+ receiversEmpty()</tspan><tspan x="1640.9" dy="14.67">+ totalQueueSize()</tspan><tspan x="1640.9" dy="14.67">+ getSlots()</tspan><tspan x="1640.9" dy="14.67">+ queueSlot()</tspan><tspan x="1640.9" dy="14.67">+ copyInnerStructure()</tspan></text></g>
<g id="n-corequeuemultireceivers-taskinputs"><rect class="b" x="1613.4" y="3224.1" width="202.3" height="177.6"/><path class="sb" d="M1613.4,3263.7 h202.3 M1613.4,3288.7 h202.3"/><text x="1623.4" y="3240.1">hh::core::CoreQueueMulti</text><text class="c" x="1714.55" y="3254.8">Receivers&lt; TaskInputs... &gt;</text><text x="1623.4" y="3304.7"><tspan x="1623.4" dy="0">+ CoreQueueMultiReceivers()</tspan><tspan x="1623.4" dy="14.67">+ ~CoreQueueMultiReceivers()</tspan><tspan x="1623.4" dy="14.67">+ receiversEmpty()</tspan><tspan x="1623.4" dy="14.67">+ totalQueueSize()</tspan><tspan x="1623.4" dy="14.67">+ getSlots()</tspan><tspan x="1623.4" dy="14.67">+ queueSlot()</tspan><tspan x="1623.4" dy="14.67">+ copyInnerStructure()</tspan></text></g>
<g id="n-corequeuereceiver-nodeinputs"><rect class="r" x="1907.7" y="2585.3" width="195.1" height="250.9"/><path class="sr" d="M1907.7,2624.9 h195.1 M1907.7,2649.9 h195.1"/><text x="1917.7" y="2601.3">hh::core::CoreQueueReceiver</text><text class="c" x="2005.25" y="2616">&lt; NodeInputs &gt;</text><text x="1917.7" y="2665.9"><tspan x="1917.7" dy="0">+ CoreQueueReceiver()</tspan><tspan x="1917.7" dy="14.67">+ ~CoreQueueReceiver()</tspan><tspan x="1917.7" dy="14.67">+ queueSlot()</tspan><tspan x="1917.7" dy="14.67">+ queueSize()</tspan><tspan x="1917.7" dy="14.67">+ maxQueueSize()</tspan><tspan x="1917.7" dy="14.67">+ addSender()</tspan><tspan x="1917.7" dy="14.67">+ removeSender()</tspan><tspan x="1917.7" dy="14.67">+ receive()</tspan><tspan x="1917.7" dy="14.67">+ receiverEmpty()</tspan><tspan x="1917.7" dy="14.67">+ receivers()</tspan><tspan x="1917.7" dy="14.67">+ popFront()</tspan><tspan x="1917.7" dy="14.67">+ copyInnerStructure()</tspan></text></g>
<g id="n-vector-shared-ptr-abstracttask"><rect class="g" x="1940.9" y="3261.7" width="221.6" height="104.3"/><path class="sg" d="M1940.9,3316 h221.6 M1940.9,3341 h221.6"/><text x="1950.9" y="3277.7">std::vector&lt; std::shared</text><text x="1950.9" y="3292.4">_ptr&lt; hh::AbstractTask</text><text class="c" x="2051.7" y="3307">&lt; TaskOutput, TaskInputs... &gt; &gt; &gt;</text></g>
<g id="n-coreexecute-taskinputs"><rect class="b" x="1135.6" y="3269.3" width="152.8" height="89.6"/><path class="sb" d="M1135.6,3308.9 h152.8 M1135.6,3333.9 h152.8"/><text x="1145.6" y="3285.3">hh::core::CoreExecute</text><text class="c" x="1212" y="3300">&lt; TaskInputs &gt;</text><text x="1145.6" y="3349.9">+ callExecute()</text></g>
<g id="n-coretask-to-ti"><rect class="b" x="1438.2" y="3468.1" width="212" height="324.3"/><path class="sb" d="M1438.2,3507.7 h212 M1438.2,3532.7 h212"/><text x="1448.2" y="3484.1">hh::core::CoreTask</text><text class="c" x="1544.2" y="3498.8">&lt; TaskOutput, TaskInputs &gt;</text><text x="1448.2" y="3548.7"><tspan x="1448.2" dy="0">+ CoreTask()</tspan><tspan x="1448.2" dy="14.67">+ ~CoreTask()</tspan><tspan x="1448.2" dy="14.67">+ automaticStart()</tspan><tspan x="1448.2" dy="14.67">+ nvtxProfiler()</tspan><tspan x="1448.2" dy="14.67">+ node()</tspan><tspan x="1448.2" dy="14.67">+ task()</tspan><tspan x="1448.2" dy="14.67">+ hasMemoryManagerAttached()</tspan><tspan x="1448.2" dy="14.67">+ automaticStart()</tspan><tspan x="1448.2" dy="14.67">+ visit()</tspan><tspan x="1448.2" dy="14.67">+ copyInnerStructure()</tspan><tspan x="1448.2" dy="14.67">+ createCluster()</tspan><tspan x="1448.2" dy="14.67">+ run()</tspan><tspan x="1448.2" dy="14.67">+ callCanTerminate()</tspan><tspan x="1448.2" dy="14.67">+ operateReceiver()</tspan><tspan x="1448.2" dy="14.67">+ waitForNotification()</tspan><tspan x="1448.2" dy="14.67">+ createCopyFromThis()</tspan><tspan x="1448.2" dy="14.67">- connectMemoryManager()</tspan></text></g>
<g id="n-coretask-to-tivariadic"><rect class="b" x="1408.6" y="3858.8" width="212" height="324.3"/><path class="sb" d="M1408.6,3898.4 h212 M1408.6,3923.4 h212"/><text x="1418.6" y="3874.8">hh::core::CoreTask</text><text class="c" x="1514.6" y="3889.5">&lt; TaskOutput, TaskInputs... &gt;</text><text x="1418.6" y="3939.4"><tspan x="1418.6" dy="0">+ CoreTask()</tspan><tspan x="1418.6" dy="14.67">+ ~CoreTask()</tspan><tspan x="1418.6" dy="14.67">+ automaticStart()</tspan><tspan x="1418.6" dy="14.67">+ automaticStart()</tspan><tspan x="1418.6" dy="14.67">+ nvtxProfiler()</tspan><tspan x="1418.6" dy="14.67">+ node()</tspan><tspan x="1418.6" dy="14.67">+ task()</tspan><tspan x="1418.6" dy="14.67">+ hasMemoryManagerAttached()</tspan><tspan x="1418.6" dy="14.67">+ visit()</tspan><tspan x="1418.6" dy="14.67">+ copyInnerStructure()</tspan><tspan x="1418.6" dy="14.67">+ createCluster()</tspan><tspan x="1418.6" dy="14.67">+ run()</tspan><tspan x="1418.6" dy="14.67">+ callCanTerminate()</tspan><tspan x="1418.6" dy="14.67">+ operateReceiver()</tspan><tspan x="1418.6" dy="14.67">+ waitForNotification()</tspan><tspan x="1418.6" dy="14.67">+ createCopyFromThis()</tspan><tspan x="1418.6" dy="14.67">- connectMemoryManager()</tspan></text></g>
<g id="n-shared-ptr-coretask"><rect class="g" x="1038.4" y="4248.8" width="202.3" height="104.3"/><path class="sg" d="M1038.4,4303.1 h202.3 M1038.4,4328.1 h202.3"/><text x="1048.4" y="4264.8">std::shared_ptr&lt; hh</text><text x="1048.4" y="4279.5">::core::CoreTask&lt; TaskOutput,</text><text class="c" x="1139.55" y="4294.1">TaskInputs... &gt; &gt;</text><text x="1048.4" y="4344.1">+ operator-&gt;()</text></g>
</g>
</g>
</svg>
